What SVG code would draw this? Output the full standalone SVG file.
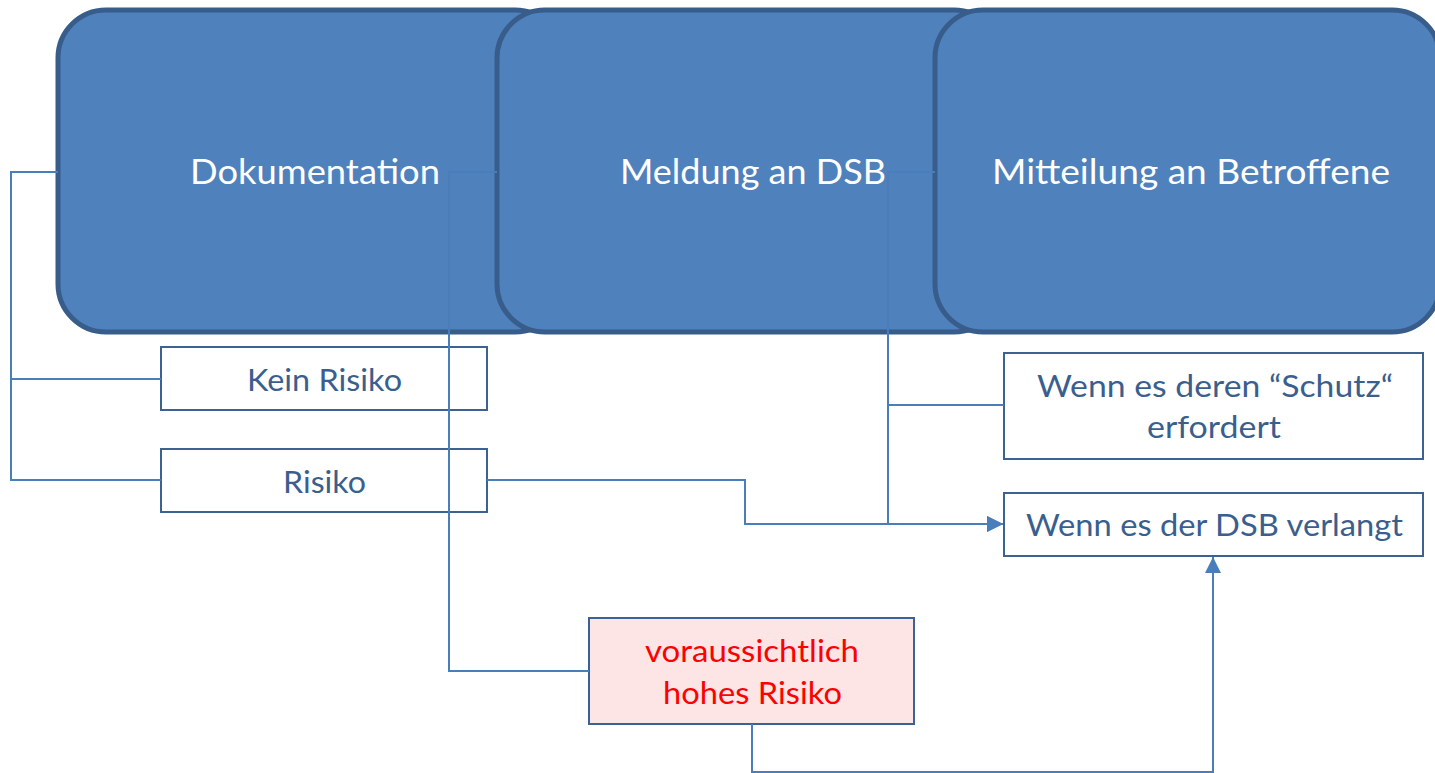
<svg xmlns="http://www.w3.org/2000/svg" width="1435" height="773" viewBox="0 0 1435 773">
<style>
.big{fill:#4F81BD;stroke:#385D8A;stroke-width:5}
.bigt{fill:#FFFFFF;font-family:Lato,"Open Sans",sans-serif;font-size:35px;text-anchor:middle}
.sm{fill:#FFFFFF;stroke:#3C6193;stroke-width:2}
.smt{fill:#3A5F8E;font-family:Lato,"Open Sans",sans-serif;font-size:31px;text-anchor:middle}
.red{fill:#FDE4E5;stroke:#3C6193;stroke-width:2}
.redt{fill:#FF0000;font-family:Lato,"Open Sans",sans-serif;font-size:31px;text-anchor:middle}
.con{fill:none;stroke:#4A7EBB;stroke-width:2}
</style>
<defs>
<marker id="arr" markerUnits="userSpaceOnUse" markerWidth="16" markerHeight="16" viewBox="0 0 16 16" refX="16" refY="8" orient="auto">
<path d="M0,0 L16,8 L0,16 Z" fill="#4A7EBB"/>
</marker>
</defs>
<rect width="1435" height="773" fill="#FFFFFF"/>
<g id="node-dokumentation">
<rect class="big" x="58" y="10" width="505" height="322" rx="48" ry="48"/>
<text class="bigt" x="315" y="184" textLength="250" lengthAdjust="spacingAndGlyphs">Dokumentation</text>
</g>
<g id="node-meldung">
<rect class="big" x="497" y="10" width="505" height="322" rx="48" ry="48"/>
<text class="bigt" x="753" y="184" textLength="266" lengthAdjust="spacingAndGlyphs">Meldung an DSB</text>
</g>
<g id="node-mitteilung">
<rect class="big" x="935" y="10" width="505" height="322" rx="48" ry="48"/>
<text class="bigt" x="1191" y="184" textLength="398" lengthAdjust="spacingAndGlyphs">Mitteilung an Betroffene</text>
</g>
<g id="node-kein-risiko">
<rect class="sm" x="161" y="347" width="326" height="63"/>
<text class="smt" x="324.5" y="391" textLength="155" lengthAdjust="spacingAndGlyphs">Kein Risiko</text>
</g>
<g id="node-risiko">
<rect class="sm" x="161" y="449" width="326" height="63"/>
<text class="smt" x="324.5" y="493" textLength="83" lengthAdjust="spacingAndGlyphs">Risiko</text>
</g>
<g id="node-schutz">
<rect class="sm" x="1004" y="353" width="419" height="106"/>
<text class="smt" x="1215" y="397" textLength="356" lengthAdjust="spacingAndGlyphs">Wenn es deren “Schutz“</text>
<text class="smt" x="1214" y="438" textLength="134" lengthAdjust="spacingAndGlyphs">erfordert</text>
</g>
<g id="node-dsb-verlangt">
<rect class="sm" x="1004" y="493" width="419" height="63"/>
<text class="smt" x="1214.5" y="536" textLength="377" lengthAdjust="spacingAndGlyphs">Wenn es der DSB verlangt</text>
</g>
<g id="node-hohes-risiko">
<rect class="red" x="589" y="618" width="325" height="106"/>
<text class="redt" x="752" y="662" textLength="214" lengthAdjust="spacingAndGlyphs">voraussichtlich</text>
<text class="redt" x="752.5" y="704" textLength="179" lengthAdjust="spacingAndGlyphs">hohes Risiko</text>
</g>
<g id="connectors">
<path class="con" d="M58,172 H11 V379 H161"/>
<path class="con" d="M11,379 V480 H161"/>
<path class="con" d="M497,172 H449 V671 H589"/>
<path class="con" d="M487,480 H745 V524 H1003" marker-end="url(#arr)"/>
<path class="con" d="M935,172 H888 V524 H1003" marker-end="url(#arr)"/>
<path class="con" d="M888,405 H1004"/>
<path class="con" d="M752,724 V772 H1213 V557" marker-end="url(#arr)"/>
</g>
</svg>
